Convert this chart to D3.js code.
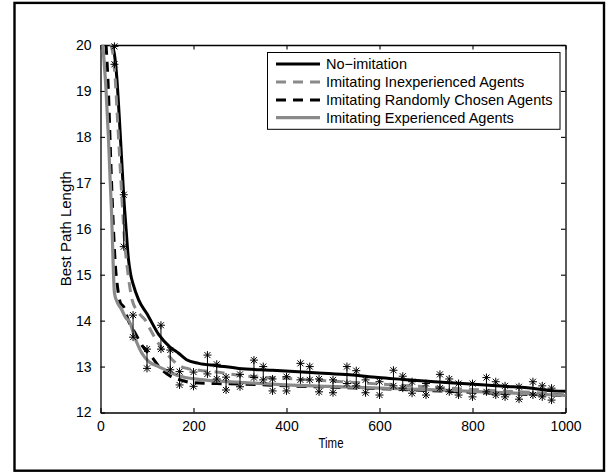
<!DOCTYPE html>
<html>
<head>
<meta charset="utf-8">
<script src="https://cdn.jsdelivr.net/npm/d3@7"></script>
<style>
  body { margin: 0; background: #fff; }
  text { font-family: "Liberation Sans", Arial, sans-serif; fill: #000; }
</style>
</head>
<body>
<svg id="chart" width="610" height="474"></svg>
<script>
// Series: [time, best path length]
const noImitation = [
  [25, 20], [30, 19.8], [35, 19.3], [40, 18.5], [45, 17.6], [50, 16.7], [55, 16.0],
  [60, 15.35], [65, 15.0], [70, 14.8], [82, 14.45], [100, 14.15], [125, 13.7],
  [150, 13.42], [168, 13.29], [185, 13.15], [211, 13.07], [250, 13.02], [297, 12.96],
  [370, 12.92], [452, 12.87], [490, 12.85], [536, 12.82], [597, 12.76], [650, 12.72],
  [704, 12.68], [760, 12.64], [811, 12.61], [870, 12.57], [918, 12.54], [976, 12.47],
  [1000, 12.46]
];
const inexperienced = [
  [22, 20], [27, 19.8], [32, 19.2], [37, 18.3], [42, 17.4], [47, 16.5], [52, 15.7],
  [57, 15.2], [62, 14.8], [68, 14.45], [80, 14.2], [97, 14.0], [110, 13.75], [125, 13.5],
  [145, 13.25], [168, 13.03], [190, 12.95], [211, 12.92], [250, 12.88], [297, 12.81],
  [400, 12.74], [500, 12.68], [600, 12.62], [700, 12.56], [800, 12.5], [900, 12.45],
  [1000, 12.4]
];
const randomChosen = [
  [12, 20], [17, 19], [22, 17.5], [27, 16.2], [32, 15.2], [37, 14.7], [43, 14.38],
  [50, 14.3], [60, 14.0], [75, 13.72], [90, 13.45], [111, 13.2], [130, 12.95],
  [154, 12.77], [175, 12.7], [197, 12.65], [250, 12.63], [300, 12.62], [400, 12.58],
  [500, 12.55], [600, 12.52], [700, 12.48], [800, 12.44], [900, 12.4], [1000, 12.37]
];
const experienced = [
  [5, 20], [12, 19], [17, 18], [21, 17], [24, 16.3], [27, 15.3], [30, 14.6], [36, 14.4],
  [45, 14.25], [55, 14.05], [61, 14.0], [75, 13.6], [89, 13.29], [105, 13.1], [125, 13.0],
  [145, 12.9], [168, 12.8], [211, 12.72], [297, 12.66], [400, 12.6], [490, 12.57],
  [600, 12.53], [704, 12.5], [800, 12.46], [918, 12.41], [1000, 12.37]
];

// asterisk pairs joined by a thin line: time, upper, lower
const spreadTime = [30, 50, 70, 100, 130, 150, 170, 200, 230, 250, 270, 300, 330, 350, 370,
  400, 430, 450, 470, 500, 530, 550, 570, 600, 630, 650, 670, 700, 730, 750, 770, 800, 830,
  850, 870, 900, 930, 950, 970];
const spreadHigh = [19.97, 16.74, 14.12, 13.38, 13.9, 13.36, 12.89, 12.88, 13.25, 13.05, 12.77,
  12.83, 13.14, 13.0, 12.73, 12.78, 13.07, 13.0, 12.73, 12.71, 13.0, 12.91, 12.71, 12.67,
  12.92, 12.79, 12.67, 12.63, 12.83, 12.73, 12.63, 12.63, 12.76, 12.67, 12.58, 12.56,
  12.67, 12.58, 12.53];
const spreadLow = [19.58, 15.61, 13.64, 12.96, 13.38, 12.93, 12.6, 12.57, 12.84, 12.73, 12.49,
  12.56, 12.76, 12.71, 12.47, 12.47, 12.71, 12.71, 12.45, 12.43, 12.63, 12.58, 12.43, 12.38,
  12.58, 12.53, 12.42, 12.38, 12.53, 12.45, 12.38, 12.34, 12.45, 12.38, 12.34, 12.29,
  12.38, 12.34, 12.27];

const xTicks = [0, 200, 400, 600, 800, 1000];
const yTicks = [12, 13, 14, 15, 16, 17, 18, 19, 20];

const seriesNames = ["No\u2212imitation", "Imitating Inexperienced Agents",
  "Imitating Randomly Chosen Agents", "Imitating Experienced Agents"];

const gray = "#8a8a8a";
const styles = [
  { color: "#000", dash: null, width: 3 },
  { color: gray, dash: "10,7", width: 3 },
  { color: "#000", dash: "10,7", width: 3 },
  { color: gray, dash: null, width: 3.2 }
];

const svg = d3.select("#chart");
const margin = { left: 100.5, right: 565.5, top: 45, bottom: 412.5 };

// outer frame
svg.append("rect")
  .attr("x", 14.5).attr("y", 2.9)
  .attr("width", 589.5).attr("height", 467.8)
  .attr("fill", "none").attr("stroke", "#000").attr("stroke-width", 2.4);

const x = d3.scaleLinear().domain([0, 1000]).range([margin.left, margin.right]);
const y = d3.scaleLinear().domain([12, 20]).range([margin.bottom, margin.top]);

const tickLen = 4.5;

// axes, ticks inward on all four sides
svg.append("g")
  .attr("transform", `translate(0,${margin.bottom})`)
  .call(d3.axisBottom(x).tickValues(xTicks).tickFormat(d3.format("d"))
    .tickSizeInner(-tickLen).tickSizeOuter(0).tickPadding(9))
  .call(g => g.selectAll("text").attr("font-size", "14px").attr("font-family", "Liberation Sans, Arial"));
svg.append("g")
  .attr("transform", `translate(0,${margin.top})`)
  .call(d3.axisTop(x).tickValues(xTicks).tickSizeInner(-tickLen).tickSizeOuter(0).tickFormat(""));
svg.append("g")
  .attr("transform", `translate(${margin.left},0)`)
  .call(d3.axisLeft(y).tickValues(yTicks).tickSizeInner(-tickLen).tickSizeOuter(0).tickPadding(9))
  .call(g => g.selectAll("text").attr("font-size", "14px").attr("font-family", "Liberation Sans, Arial"));
svg.append("g")
  .attr("transform", `translate(${margin.right},0)`)
  .call(d3.axisRight(y).tickValues(yTicks).tickSizeInner(-tickLen).tickSizeOuter(0).tickFormat(""));

svg.selectAll(".domain").attr("stroke-width", 1.3);
svg.selectAll(".tick line").attr("stroke-width", 1.1);

// curves
const line = d3.line().x(d => x(d[0])).y(d => y(d[1])).curve(d3.curveMonotoneX);
const allSeries = [noImitation, inexperienced, randomChosen, experienced];
allSeries.forEach((s, i) => {
  svg.append("path")
    .datum(s)
    .attr("d", line)
    .attr("fill", "none")
    .attr("stroke", styles[i].color)
    .attr("stroke-width", styles[i].width)
    .attr("stroke-dasharray", styles[i].dash);
});

// spread lines and asterisks
const spread = spreadTime.map((t, i) => ({ t, hi: spreadHigh[i], lo: spreadLow[i] }));
svg.append("g").selectAll("line")
  .data(spread)
  .join("line")
  .attr("x1", d => x(d.t)).attr("x2", d => x(d.t))
  .attr("y1", d => y(d.hi)).attr("y2", d => y(d.lo))
  .attr("stroke", "#000").attr("stroke-width", 1);

const r = 4, rd = 3;
const star = `M0,${-r}V${r}M${-r},0H${r}M${-rd},${-rd}L${rd},${rd}M${-rd},${rd}L${rd},${-rd}`;
const starPts = spread.flatMap(d => [[d.t, d.hi], [d.t, d.lo]]);
svg.append("g").selectAll("path")
  .data(starPts)
  .join("path")
  .attr("transform", d => `translate(${x(d[0])},${y(d[1])})`)
  .attr("d", star)
  .attr("fill", "none")
  .attr("stroke", "#000")
  .attr("stroke-width", 1);

// axis labels
svg.append("text")
  .attr("x", 331).attr("y", 447.5)
  .attr("text-anchor", "middle")
  .attr("font-size", "14px")
  .attr("textLength", 25).attr("lengthAdjust", "spacingAndGlyphs")
  .text("Time");
svg.append("text")
  .attr("transform", `translate(70.5,${(margin.top + margin.bottom) / 2}) rotate(-90)`)
  .attr("text-anchor", "middle")
  .attr("font-size", "15px")
  .text("Best Path Length");

// legend
const legend = svg.append("g");
legend.append("rect")
  .attr("x", 267.5).attr("y", 52.5)
  .attr("width", 292.5).attr("height", 76.8)
  .attr("fill", "#fff").attr("stroke", "#000").attr("stroke-width", 1);
const rowY = [64, 82, 100, 117.7];
seriesNames.forEach((name, i) => {
  legend.append("line")
    .attr("x1", 276).attr("x2", 320)
    .attr("y1", rowY[i]).attr("y2", rowY[i])
    .attr("stroke", styles[i].color)
    .attr("stroke-width", styles[i].width)
    .attr("stroke-dasharray", styles[i].dash);
  legend.append("text")
    .attr("x", 326).attr("y", rowY[i])
    .attr("dy", "0.36em")
    .attr("font-size", "14.5px")
    .text(name);
});
</script>
</body>
</html>
